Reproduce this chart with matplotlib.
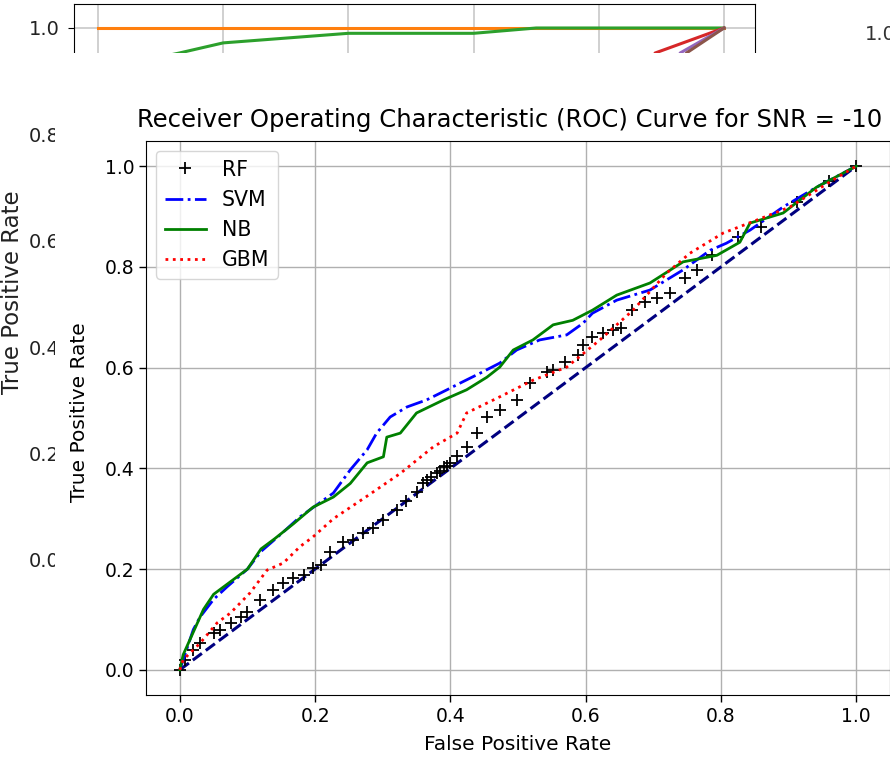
import matplotlib.pyplot as plt
from matplotlib.patches import Rectangle

W, H = 890, 761

# ROC curves of the main chart
rf_fpr = [0.0, 0.008, 0.02, 0.03, 0.05, 0.06, 0.075, 0.09, 0.10, 0.119, 0.138, 0.153, 0.168,
          0.183, 0.197, 0.208, 0.222, 0.242, 0.256, 0.271, 0.286, 0.301, 0.321, 0.335, 0.35,
          0.36, 0.365, 0.372, 0.38, 0.385, 0.39, 0.395, 0.40, 0.41, 0.424, 0.44, 0.454, 0.473,
          0.498, 0.518, 0.543, 0.552, 0.569, 0.589, 0.596, 0.61, 0.626, 0.64, 0.653, 0.668,
          0.688, 0.705, 0.724, 0.747, 0.764, 0.787, 0.825, 0.86, 0.913, 0.96, 1.0]
rf_tpr = [0.0, 0.02, 0.04, 0.053, 0.073, 0.079, 0.093, 0.105, 0.115, 0.139, 0.159, 0.173, 0.183,
          0.188, 0.202, 0.208, 0.234, 0.254, 0.258, 0.272, 0.282, 0.298, 0.318, 0.335, 0.353,
          0.37, 0.377, 0.383, 0.39, 0.395, 0.403, 0.405, 0.41, 0.425, 0.443, 0.47, 0.502, 0.516,
          0.536, 0.569, 0.591, 0.595, 0.611, 0.625, 0.645, 0.661, 0.669, 0.675, 0.679, 0.714,
          0.73, 0.738, 0.748, 0.778, 0.794, 0.823, 0.859, 0.88, 0.929, 0.97, 1.0]

svm_fpr = [0.0, 0.01, 0.02, 0.03, 0.05, 0.07, 0.1, 0.12, 0.15, 0.178, 0.2, 0.227, 0.252, 0.277,
           0.291, 0.311, 0.336, 0.365, 0.395, 0.414, 0.444, 0.473, 0.498, 0.532, 0.572, 0.596,
           0.61, 0.646, 0.695, 0.744, 0.784, 0.808, 0.843, 0.892, 0.941, 1.0]
svm_tpr = [0.0, 0.04, 0.08, 0.105, 0.14, 0.165, 0.2, 0.235, 0.27, 0.304, 0.325, 0.351, 0.397,
           0.437, 0.47, 0.502, 0.522, 0.536, 0.556, 0.569, 0.589, 0.609, 0.635, 0.655, 0.665,
           0.688, 0.708, 0.734, 0.754, 0.794, 0.833, 0.847, 0.873, 0.919, 0.958, 1.0]

nb_fpr = [0.0, 0.005, 0.015, 0.025, 0.035, 0.05, 0.07, 0.09, 0.1, 0.12, 0.14, 0.168, 0.197,
          0.227, 0.252, 0.277, 0.301, 0.306, 0.326, 0.35, 0.39, 0.424, 0.454, 0.473, 0.493,
          0.522, 0.552, 0.581, 0.61, 0.646, 0.695, 0.744, 0.794, 0.828, 0.843, 0.892, 0.941, 1.0]
nb_tpr = [0.0, 0.03, 0.06, 0.09, 0.12, 0.15, 0.17, 0.19, 0.2, 0.24, 0.26, 0.29, 0.323,
          0.343, 0.37, 0.411, 0.423, 0.462, 0.47, 0.51, 0.536, 0.556, 0.581, 0.601, 0.635,
          0.655, 0.685, 0.694, 0.714, 0.744, 0.768, 0.81, 0.823, 0.849, 0.887, 0.907, 0.958, 1.0]

gbm_fpr = [0.0, 0.005, 0.03, 0.055, 0.075, 0.104, 0.129, 0.153, 0.178, 0.197, 0.227, 0.277,
           0.326, 0.375, 0.41, 0.424, 0.473, 0.522, 0.572, 0.621, 0.67, 0.72, 0.754, 0.803,
           0.853, 0.902, 0.965, 1.0]
gbm_tpr = [0.0, 0.02, 0.053, 0.093, 0.113, 0.153, 0.198, 0.212, 0.245, 0.264, 0.3, 0.345,
           0.39, 0.443, 0.47, 0.51, 0.542, 0.575, 0.601, 0.655, 0.714, 0.788, 0.827, 0.867,
           0.893, 0.919, 0.972, 1.0]

# curves of the figure lying behind (only the top strip shows)
bg_orange_x = [0.0, 1.0]
bg_orange_y = [1.0, 1.0]
bg_green_x = [0.0, 0.13, 0.2, 0.4, 0.6, 0.7, 1.0]
bg_green_y = [0.92, 0.953, 0.972, 0.99, 0.99, 1.0, 1.0]
bg_red_x = [0.85, 0.89, 1.0]
bg_red_y = [0.85, 0.953, 1.0]
bg_purple_x = [0.9, 0.93, 1.0]
bg_purple_y = [0.85, 0.953, 1.0]
bg_brown_x = [0.91, 0.94, 1.0]
bg_brown_y = [0.85, 0.953, 1.0]


def px_rect(x0, y0, x1, y1):
    return [x0 / W, 1 - y1 / H, (x1 - x0) / W, (y1 - y0) / H]


fig = plt.figure(figsize=(W / 100, H / 100), dpi=100)

# --- figure in the background ---
ax_bg = fig.add_axes(px_rect(74, 4, 755, 600), zorder=0)
ax_bg.plot(bg_orange_x, bg_orange_y, color='C1', lw=2.2)
ax_bg.plot(bg_green_x, bg_green_y, color='C2', lw=2.2)
ax_bg.plot(bg_red_x, bg_red_y, color='C3', lw=2.2)
ax_bg.plot(bg_purple_x, bg_purple_y, color='C4', lw=2.2)
ax_bg.plot(bg_brown_x, bg_brown_y, color='C5', lw=2.2)
ax_bg.set_xlim(-0.0383, 1.0495)
ax_bg.set_ylim(-0.0752, 1.0451)
ax_bg.set_xticks([0, 0.2, 0.4, 0.6, 0.8, 1.0])
ax_bg.set_yticks([0, 0.2, 0.4, 0.6, 0.8, 1.0])
ax_bg.set_xticklabels([])
ax_bg.tick_params(axis='y', labelsize=14, length=4.5, pad=6, labelcolor='#222222')
ax_bg.grid(True, color='#c8c8c8', lw=1.2)
fig.text(13 / W, 1 - 292 / H, 'True Positive Rate', rotation=90, fontsize=16.5,
         ha='center', va='center', color='#222222')
fig.text(865 / W, 1 - 35 / H, '1.0', fontsize=14, ha='left', va='center', color='#333333')

# white area of the pasted screenshot
fig.patches.append(Rectangle((55 / W, 0), 1 - 55 / W, 1 - 53 / H, transform=fig.transFigure,
                             facecolor='white', edgecolor='none', zorder=1))

# --- main ROC chart ---
ax = fig.add_axes(px_rect(146, 141, 890, 695), zorder=2)
ax.plot([0, 1], [0, 1], color='navy', lw=2.2, linestyle='--')
ax.plot(rf_fpr, rf_tpr, 'k+', markersize=9, mew=1.3, label='RF')
ax.plot(svm_fpr, svm_tpr, 'b-.', lw=2, label='SVM')
ax.plot(nb_fpr, nb_tpr, 'g-', lw=2, label='NB')
ax.plot(gbm_fpr, gbm_tpr, 'r:', lw=2, label='GBM')
ax.set_xlim(-0.05, 1.05)
ax.set_ylim(-0.05, 1.05)
ax.grid(True, color='#b0b0b0', lw=1)
ax.tick_params(labelsize=13.5, length=5, width=1)
ax.set_xlabel('False Positive Rate', fontsize=14.5)
ax.set_ylabel('True Positive Rate', fontsize=14.5)
ax.xaxis.set_label_coords(0.5, -0.072)
ax.yaxis.set_label_coords(-0.077, 0.51)
ax.legend(loc='upper left', fontsize=14.8)
fig.text(137 / W, 1 - 127 / H, 'Receiver Operating Characteristic (ROC) Curve for SNR = -10 dB',
         fontsize=17.5, ha='left', va='baseline')

fig.savefig('out.png', dpi=100)
